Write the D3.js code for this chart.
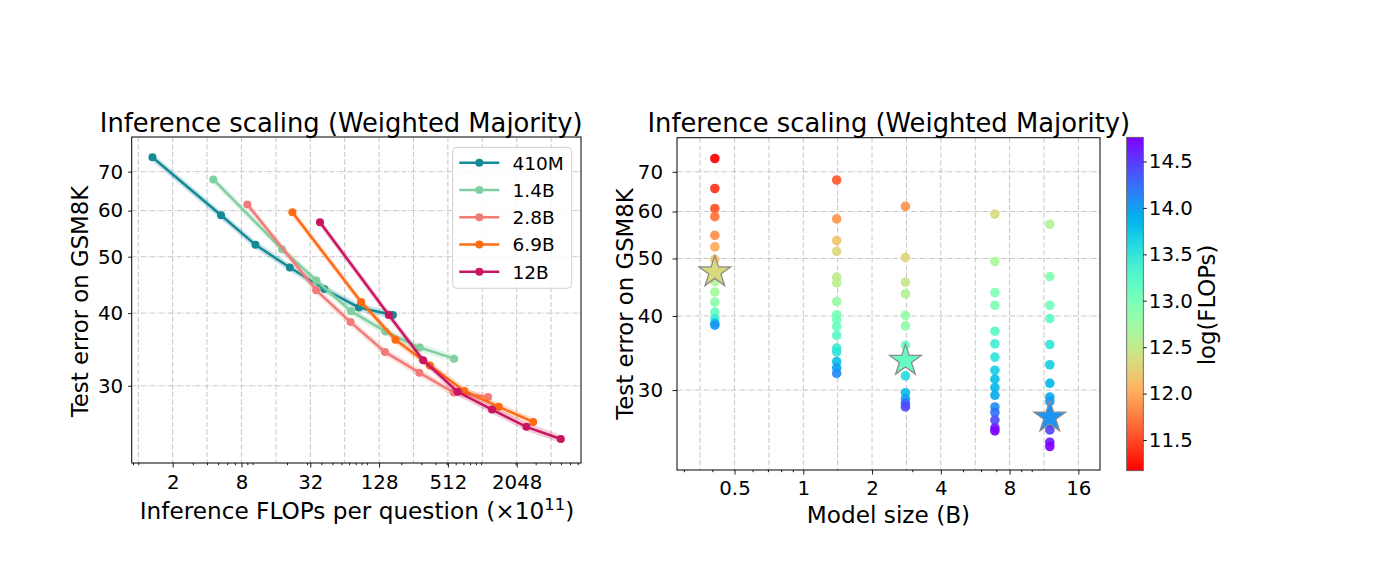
<!DOCTYPE html>
<html>
<head>
<meta charset="utf-8">
<script src="https://cdn.jsdelivr.net/npm/d3@7"></script>
<style>
  body { margin: 0; background: #fff; }
  svg { display: block; }
  text { font-family: "DejaVu Sans", sans-serif; fill: #000; }
</style>
</head>
<body>
<svg id="chart" width="1374" height="561"></svg>
<script>
// ---- data: left panel (FLOPs in units of 1e11, test error %) ----
const models = ["410M", "1.4B", "2.8B", "6.9B", "12B"];
const flops410M = [1.33, 5.3, 10.6, 21.2, 42.4, 85, 169];
const err410M = [74.1, 58.9, 52.4, 47.9, 44.0, 40.9, 39.7];
const flops1_4B = [4.53, 18.1, 36.2, 72.5, 145, 290, 580];
const err1_4B = [67.9, 51.5, 45.5, 40.3, 37.2, 34.9, 33.4];
const flops2_8B = [9.0, 36, 72, 144, 288, 576, 1152];
const err2_8B = [61.5, 43.8, 38.6, 34.3, 31.6, 29.2, 28.7];
const flops6_9B = [22.3, 89, 178, 357, 714, 1428, 2856];
const err6_9B = [59.6, 41.8, 36.0, 32.5, 29.4, 27.6, 26.0];
const flops12B = [38.9, 155.6, 311, 622, 1245, 2490, 4980];
const err12B = [57.3, 39.7, 33.2, 29.3, 27.3, 25.5, 24.3];

// ---- data: right panel (model size in B, test error %, log10 FLOPs) ----
const sizeB = [0.41, 1.4, 2.8, 6.9, 12];
const ptErr410M = [73.7, 65.6, 60.7, 58.8, 54.7, 52.3, 49.8, 47.8, 45.7, 43.9, 42.2, 40.6, 39.6, 38.9, 38.6];
const ptLog410M = [11.17, 11.4, 11.55, 11.7, 11.85, 12.0, 12.15, 12.33, 12.6, 12.7, 12.87, 13.1, 13.4, 13.75, 14.05];
const ptErr1_4B = [67.8, 58.3, 53.6, 51.4, 46.5, 45.5, 42.3, 40.2, 39.4, 38.4, 37.1, 35.3, 34.8, 33.5, 32.7, 32.0];
const ptLog1_4B = [11.58, 11.89, 12.18, 12.32, 12.52, 12.56, 12.8, 13.0, 13.05, 13.1, 13.23, 13.43, 13.5, 13.78, 13.95, 14.1];
const ptErr2_8B = [61.2, 50.2, 45.6, 43.6, 40.1, 38.5, 35.7, 33.9, 31.7, 29.7, 29.0, 28.5, 28.1];
const ptLog2_8B = [11.87, 12.3, 12.46, 12.6, 12.8, 12.87, 13.1, 13.2, 13.58, 13.8, 13.98, 14.29, 14.44];
const ptErr6_9B = [59.4, 49.4, 43.8, 41.7, 37.7, 35.9, 34.1, 32.4, 31.3, 30.3, 29.4, 28.1, 27.5, 26.7, 25.9, 25.6];
const ptLog6_9B = [12.35, 12.66, 12.95, 12.98, 13.23, 13.38, 13.5, 13.68, 13.78, 13.83, 13.92, 14.08, 14.22, 14.4, 14.65, 14.75];
const ptErr12B = [57.1, 46.6, 41.7, 39.6, 35.8, 33.1, 30.8, 29.2, 28.7, 27.2, 26.4, 25.7, 24.5, 24.1];
const ptLog12B = [12.62, 12.95, 13.05, 13.2, 13.5, 13.68, 13.82, 13.92, 14.02, 14.1, 14.3, 14.45, 14.65, 14.76];
const starSize = [0.41, 2.8, 12];
const starErr = [47.8, 33.9, 27.2];
const starLog = [12.33, 13.15, 14.05];

// ---- ticks ----
const xTicksLeft = [2, 8, 32, 128, 512, 2048];
const xTicksRight = [0.5, 1, 2, 4, 8, 16];
const yTicks = [30, 40, 50, 60, 70];
const cbTicks = [11.5, 12, 12.5, 13, 13.5, 14, 14.5];

const seriesColors = ["#138a96", "#7fcf9f", "#f27b78", "#ff6b12", "#c9155f"];
const lineFlops = [flops410M, flops1_4B, flops2_8B, flops6_9B, flops12B];
const lineErr = [err410M, err1_4B, err2_8B, err6_9B, err12B];
const ptErr = [ptErr410M, ptErr1_4B, ptErr2_8B, ptErr6_9B, ptErr12B];
const ptLog = [ptLog410M, ptLog1_4B, ptLog2_8B, ptLog6_9B, ptLog12B];

const svg = d3.select("#chart");

const xL = d3.scaleLog().base(2).domain([0.876, 7480]).range([131.7, 581]);
const yL = d3.scaleLog().domain([22.1, 80.3]).range([463, 137]);
const xR = d3.scaleLog().base(2).domain([0.28, 19.9]).range([677, 1100]);
const yR = d3.scaleLog().domain([22.0, 79.9]).range([470, 137.7]);

// matplotlib "rainbow", reversed (low = red, high = purple)
function rainbowR(t) {
  const s = 1 - t;
  const r = Math.min(1, Math.abs(2 * s - 0.5));
  const g = Math.max(0, Math.min(1, Math.sin(Math.PI * s)));
  const b = Math.max(0, Math.min(1, Math.cos(Math.PI * s / 2)));
  return d3.rgb(r * 255, g * 255, b * 255).formatHex();
}

function pow2Grid(dom, step) {
  const out = [];
  for (let e = Math.ceil(Math.log2(dom[0]) / step) * step; e <= Math.log2(dom[1]); e += step) out.push(Math.pow(2, e));
  return out;
}
function minor10(dom, skip) {
  const out = [];
  for (let k = -2; k < 5; k++)
    for (let m = 1; m < 10; m++) {
      const v = m * Math.pow(10, k);
      if (v >= dom[0] && v <= dom[1] && !skip.some(s => Math.abs(s - v) < 1e-9)) out.push(v);
    }
  return out;
}

function grid(x, y, xGrid) {
  const [x0, x1] = x.range(), [y0, y1] = y.range();
  const g = svg.append("g");
  g.selectAll(null).data(xGrid).join("line")
    .attr("x1", d => x(d)).attr("x2", d => x(d)).attr("y1", y1).attr("y2", y0)
    .attr("stroke", "#b8b8b8").attr("stroke-width", 0.8).attr("stroke-dasharray", "5,2.5");
  g.selectAll(null).data(yTicks).join("line")
    .attr("x1", x0).attr("x2", x1).attr("y1", d => y(d)).attr("y2", d => y(d))
    .attr("stroke", "#b8b8b8").attr("stroke-width", 0.8).attr("stroke-dasharray", "5,1.5,1,1.5");
}

function frame(x, y, xTicks, xMinor, xPad, yTickLen, yPad) {
  const [x0, x1] = x.range(), [y0, y1] = y.range();
  const g = svg.append("g");
  const styleAxis = sel => {
    sel.select(".domain").remove();
    sel.selectAll("line").attr("stroke", "#000").attr("stroke-width", 0.9);
    sel.selectAll("text").attr("font-size", 19.8).attr("font-family", "DejaVu Sans");
  };
  g.append("g").attr("transform", `translate(0,${y0})`)
    .call(d3.axisBottom(x).tickValues(xMinor).tickSize(2.2).tickFormat(""))
    .call(styleAxis);
  g.append("g").attr("transform", `translate(0,${y0})`)
    .call(d3.axisBottom(x).tickValues(xTicks).tickSize(4.5).tickPadding(xPad).tickFormat(d => d))
    .call(styleAxis);
  g.append("g").attr("transform", `translate(${x0},0)`)
    .call(d3.axisLeft(y).tickValues(yTicks).tickSize(yTickLen).tickPadding(yPad).tickFormat(d => d))
    .call(styleAxis);
  g.append("rect").attr("x", x0).attr("y", y1).attr("width", x1 - x0).attr("height", y0 - y1)
    .attr("fill", "none").attr("stroke", "#000").attr("stroke-width", 1);
}

// ---------------- left panel ----------------
grid(xL, yL, pow2Grid(xL.domain(), 1));

const area = d3.area()
  .x(d => xL(d[0])).y0(d => yL(d[1] * 0.984)).y1(d => yL(d[1] * 1.016));
const line = d3.line().x(d => xL(d[0])).y(d => yL(d[1]));

models.forEach((m, i) => {
  const pts = lineFlops[i].map((f, j) => [f, lineErr[i][j]]);
  const g = svg.append("g");
  g.append("path").attr("d", area(pts)).attr("fill", seriesColors[i]).attr("opacity", 0.22);
  g.append("path").attr("d", line(pts)).attr("fill", "none")
    .attr("stroke", seriesColors[i]).attr("stroke-width", 2.5);
  g.selectAll("circle").data(pts).join("circle")
    .attr("cx", d => xL(d[0])).attr("cy", d => yL(d[1])).attr("r", 4)
    .attr("fill", seriesColors[i]);
});

frame(xL, yL, xTicksLeft, minor10(xL.domain(), xTicksLeft), 7, 3.5, 5);

// legend
const leg = svg.append("g");
leg.append("rect").attr("x", 452.7).attr("y", 147.3).attr("width", 119).attr("height", 141)
  .attr("rx", 4).attr("fill", "#fff").attr("fill-opacity", 0.85)
  .attr("stroke", "#d0d0d0").attr("stroke-width", 1);
models.forEach((m, i) => {
  const cy = 162.7 + i * 27.25;
  leg.append("line").attr("x1", 459.3).attr("x2", 499.3).attr("y1", cy).attr("y2", cy)
    .attr("stroke", seriesColors[i]).attr("stroke-width", 2.5);
  leg.append("circle").attr("cx", 479.3).attr("cy", cy).attr("r", 4).attr("fill", seriesColors[i]);
  leg.append("text").attr("x", 512.5).attr("y", cy + 6.8).attr("font-size", 18.5).text(m);
});

svg.append("text").attr("x", 341.2).attr("y", 131.7).attr("text-anchor", "middle")
  .attr("font-size", 25.8).text("Inference scaling (Weighted Majority)");
const xlab = svg.append("text").attr("x", 357).attr("y", 518.8).attr("text-anchor", "middle")
  .attr("font-size", 23.2);
xlab.append("tspan").text("Inference FLOPs per question (×10");
xlab.append("tspan").attr("font-size", 16.5).attr("dy", -9).text("11");
xlab.append("tspan").attr("dy", 9).text(")");
svg.append("text").attr("transform", "translate(88.3,301.5) rotate(-90)").attr("text-anchor", "middle")
  .attr("font-size", 22.8).text("Test error on GSM8K");

// ---------------- right panel ----------------
const allLog = ptLog.flat().concat(starLog);
const cExt = d3.extent(allLog);
const cNorm = d3.scaleLinear().domain(cExt).range([0, 1]).clamp(true);
const color = v => rainbowR(cNorm(v));

grid(xR, yR, pow2Grid(xR.domain(), 0.5));

const scatter = [];
sizeB.forEach((s, i) => ptErr[i].forEach((e, j) => scatter.push({ s, e, c: ptLog[i][j] })));
svg.append("g").selectAll("circle").data(scatter).join("circle")
  .attr("cx", d => xR(d.s)).attr("cy", d => yR(d.e)).attr("r", 4.8)
  .attr("fill", d => color(d.c)).attr("fill-opacity", 0.92);

const star = d3.symbol().type(d3.symbolStar).size(310);
svg.append("g").selectAll("path").data(starSize.map((s, i) => ({ s, e: starErr[i], c: starLog[i] })))
  .join("path")
  .attr("d", star)
  .attr("transform", d => `translate(${xR(d.s)},${yR(d.e) + 2})`)
  .attr("fill", d => color(d.c)).attr("stroke", "#8a8a8a").attr("stroke-width", 1.3);

frame(xR, yR, xTicksRight, minor10(xR.domain(), xTicksRight), 6, 4.5, 9.5);

svg.append("text").attr("x", 888.8).attr("y", 131.7).attr("text-anchor", "middle")
  .attr("font-size", 25.8).text("Inference scaling (Weighted Majority)");
svg.append("text").attr("x", 888.5).attr("y", 522.5).attr("text-anchor", "middle")
  .attr("font-size", 23.2).text("Model size (B)");
svg.append("text").attr("transform", "translate(633.3,304) rotate(-90)").attr("text-anchor", "middle")
  .attr("font-size", 22.8).text("Test error on GSM8K");

// ---------------- colorbar ----------------
const cbX = 1126.7, cbW = 16.6, cbTop = 137.3, cbBot = 470.7;
const grad = svg.append("defs").append("linearGradient").attr("id", "cbgrad")
  .attr("x1", 0).attr("y1", 1).attr("x2", 0).attr("y2", 0);
d3.range(0, 1.0001, 0.02).forEach(t => {
  grad.append("stop").attr("offset", t).attr("stop-color", rainbowR(t));
});
svg.append("rect").attr("x", cbX).attr("y", cbTop).attr("width", cbW).attr("height", cbBot - cbTop)
  .attr("fill", "url(#cbgrad)").attr("stroke", "#555").attr("stroke-width", 0.8);
const cbScale = d3.scaleLinear().domain(cExt).range([cbBot, cbTop]);
svg.append("g").attr("transform", `translate(${cbX + cbW},0)`)
  .call(d3.axisRight(cbScale).tickValues(cbTicks).tickSize(3.5).tickPadding(2).tickFormat(d3.format(".1f")))
  .call(sel => {
    sel.select(".domain").remove();
    sel.selectAll("line").attr("stroke", "#000").attr("stroke-width", 0.9);
    sel.selectAll("text").attr("font-size", 19.8).attr("font-family", "DejaVu Sans");
  });
svg.append("text").attr("transform", "translate(1215,305) rotate(-90)").attr("text-anchor", "middle")
  .attr("font-size", 22.8).text("log(FLOPs)");
</script>
</body>
</html>
